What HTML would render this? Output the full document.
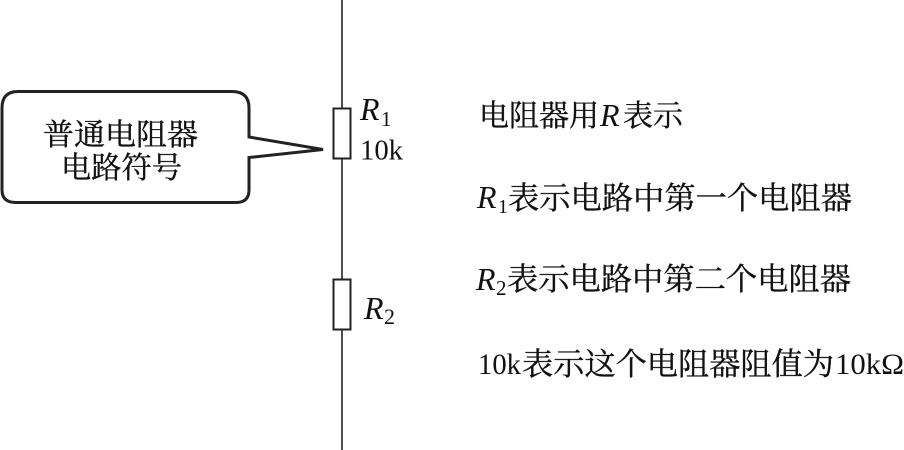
<!DOCTYPE html>
<html><head><meta charset="utf-8">
<style>html,body{margin:0;padding:0;background:#fff}svg{display:block}
text{fill:#111}
.c{font-family:"Noto Serif CJK SC","Noto Sans CJK SC",serif;stroke:#111;stroke-width:.35}
.l{font-family:"Liberation Serif",serif}
.i{font-family:"Liberation Serif",serif;font-style:italic}
</style></head><body>
<svg width="904" height="450" viewBox="0 0 904 450" xmlns="http://www.w3.org/2000/svg">
<path d="M342 0V108M342 159V279M342 329V450" stroke="#222" stroke-width="1.6" fill="none"/>
<rect x="333.500" y="108.500" width="17" height="50" fill="#fff" stroke="#222" stroke-width="2"/>
<rect x="333.500" y="279.500" width="17" height="50" fill="#fff" stroke="#222" stroke-width="2"/>
<path d="M18 91.500H232Q249 91.500 249 108V137L323 149.500L249 157.500V190Q249 202.500 236 202.500H16Q2 202.500 2 190V108Q2 91.500 18 91.500Z" fill="#fff" stroke="#222" stroke-width="3"/>
<text class="c" x="43" y="145" font-size="30" textLength="155" lengthAdjust="spacingAndGlyphs">普通电阻器</text>
<text class="c" x="61" y="178" font-size="30" textLength="121" lengthAdjust="spacingAndGlyphs">电路符号</text>
<text class="i" x="360" y="120" font-size="32">R</text>
<text class="l" x="381" y="126" font-size="21">1</text>
<text class="l" x="360" y="159.500" font-size="29" textLength="43" lengthAdjust="spacingAndGlyphs">10k</text>
<text class="i" x="364" y="319" font-size="32">R</text>
<text class="l" x="384" y="324" font-size="22">2</text>
<text class="c" x="479" y="126" font-size="30" textLength="120" lengthAdjust="spacingAndGlyphs">电阻器用</text>
<text class="i" x="600" y="126" font-size="32">R</text>
<text class="c" x="623" y="126" font-size="30" textLength="60" lengthAdjust="spacingAndGlyphs">表示</text>
<text class="i" x="477" y="208" font-size="32">R</text>
<text class="l" x="498" y="213" font-size="20">1</text>
<text class="c" x="508" y="209" font-size="31" textLength="344" lengthAdjust="spacingAndGlyphs">表示电路中第一个电阻器</text>
<text class="i" x="476" y="290" font-size="32">R</text>
<text class="l" x="496" y="295" font-size="21">2</text>
<text class="c" x="507" y="290" font-size="31" textLength="344" lengthAdjust="spacingAndGlyphs">表示电路中第二个电阻器</text>
<text class="l" x="478" y="374" font-size="30" textLength="43" lengthAdjust="spacingAndGlyphs">10k</text>
<text class="c" x="522" y="375" font-size="31" textLength="312" lengthAdjust="spacingAndGlyphs">表示这个电阻器阻值为</text>
<text class="l" x="835" y="374" font-size="30" textLength="69" lengthAdjust="spacingAndGlyphs">10kΩ</text>
</svg>
</body></html>
